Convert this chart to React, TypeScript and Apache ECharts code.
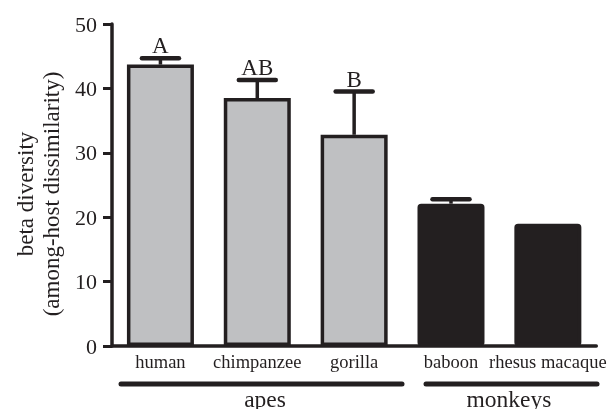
import React, { useEffect, useRef } from "react";
import * as echarts from "echarts";

// Host species and their mean among-host beta diversity (± s.e.)
const categories = ["human", "chimpanzee", "gorilla", "baboon", "rhesus macaque"];
const means = [43.7, 38.5, 32.8, 22.1, 19.0];
const errors = [1.0, 2.8, 6.7, 0.7, 0];
const letters = ["A", "AB", "B", "", ""];
const groups = ["apes", "apes", "apes", "monkeys", "monkeys"];
const yTicks = [0, 10, 20, 30, 40, 50];

const INK = "#231f20";
const APE_FILL = "#bfc0c2";
const FONT = '"Liberation Serif", "Times New Roman", "DejaVu Serif", serif';

export default function App() {
  const ref = useRef<HTMLDivElement>(null);

  useEffect(() => {
    if (!ref.current) return;
    const chart = echarts.init(ref.current, undefined, { renderer: "svg" });

    const barData = means.map((v, i) => ({
      value: v,
      itemStyle: {
        color: groups[i] === "apes" ? APE_FILL : INK,
        borderColor: INK,
        borderWidth: 3.5,
        borderRadius: groups[i] === "apes" ? 0 : 2,
      },
    }));

    const errData = categories.map((_, i) => [i, means[i], errors[i]]);

    chart.setOption({
      animation: false,
      grid: { left: 112, right: 6, top: 24, bottom: 63 },
      xAxis: {
        type: "category",
        data: categories,
        boundaryGap: true,
        axisLine: { lineStyle: { color: INK, width: 3.5 } },
        axisTick: { show: false },
        axisLabel: { color: INK, fontFamily: FONT, fontSize: 18.5, margin: 6, interval: 0 },
      },
      yAxis: {
        type: "value",
        min: yTicks[0],
        max: yTicks[yTicks.length - 1],
        interval: 10,
        splitLine: { show: false },
        axisLine: { show: true, lineStyle: { color: INK, width: 3.5 } },
        axisTick: { show: true, length: 9, lineStyle: { color: INK, width: 3 } },
        axisLabel: { color: INK, fontFamily: FONT, fontSize: 22, margin: 15 },
      },
      series: [
        {
          type: "bar",
          data: barData,
          barWidth: 67,
          z: 2,
        },
        {
          type: "custom",
          z: 3,
          data: errData,
          renderItem: (params: any, api: any) => {
            const i = api.value(0);
            const mean = api.value(1);
            const err = api.value(2);
            if (!err) return null;
            const base = api.coord([i, mean]);
            const top = api.coord([i, mean + err]);
            const half = 18.5;
            const children: any[] = [
              {
                type: "line",
                shape: { x1: base[0], y1: base[1], x2: top[0], y2: top[1] },
                style: { stroke: INK, lineWidth: 3.5 },
              },
              {
                type: "line",
                shape: { x1: top[0] - half, y1: top[1], x2: top[0] + half, y2: top[1] },
                style: { stroke: INK, lineWidth: 4.5, lineCap: "round" },
              },
            ];
            const letter = letters[params.dataIndex];
            if (letter) {
              children.push({
                type: "text",
                x: top[0],
                y: top[1] - 1,
                style: {
                  text: letter,
                  fill: INK,
                  font: `23px ${FONT}`,
                  align: "center",
                  verticalAlign: "bottom",
                },
              });
            }
            return { type: "group", children };
          },
        },
      ],
      graphic: [
        {
          type: "text",
          x: 25,
          y: 194,
          rotation: Math.PI / 2,
          style: {
            text: "beta diversity",
            fill: INK,
            font: `23px ${FONT}`,
            align: "center",
            verticalAlign: "middle",
          },
        },
        {
          type: "text",
          x: 51,
          y: 194,
          rotation: Math.PI / 2,
          style: {
            text: "(among-host dissimilarity)",
            fill: INK,
            font: `23px ${FONT}`,
            align: "center",
            verticalAlign: "middle",
          },
        },
        {
          type: "line",
          shape: { x1: 121, y1: 384, x2: 402, y2: 384 },
          style: { stroke: INK, lineWidth: 5, lineCap: "round" },
        },
        {
          type: "line",
          shape: { x1: 426, y1: 384, x2: 597, y2: 384 },
          style: { stroke: INK, lineWidth: 5, lineCap: "round" },
        },
        {
          type: "text",
          x: 265,
          y: 399,
          style: { text: "apes", fill: INK, font: `23.5px ${FONT}`, align: "center", verticalAlign: "middle" },
        },
        {
          type: "text",
          x: 509,
          y: 399,
          style: { text: "monkeys", fill: INK, font: `23.5px ${FONT}`, align: "center", verticalAlign: "middle" },
        },
      ],
    });

    return () => chart.dispose();
  }, []);

  return (
    <div
      ref={ref}
      style={{ position: "fixed", left: 0, top: 0, width: 609, height: 409 }}
    />
  );
}
